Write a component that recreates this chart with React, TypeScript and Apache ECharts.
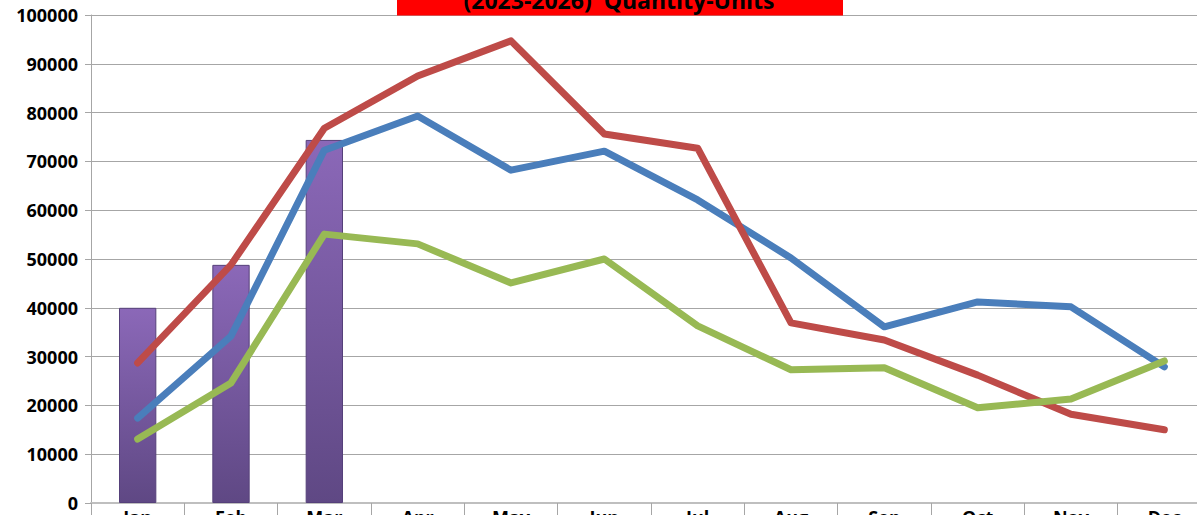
import React, { useEffect, useRef } from "react";
import * as echarts from "echarts";

const months = ["Jan", "Feb", "Mar", "Apr", "May", "Jun", "Jul", "Aug", "Sep", "Oct", "Nov", "Dec"];
const series2023 = [17400, 34200, 72300, 79300, 68200, 72100, 62100, 50200, 36100, 41200, 40200, 27900];
const series2024 = [28700, 48800, 76800, 87500, 94700, 75600, 72700, 36900, 33400, 26200, 18200, 15000];
const series2025 = [13100, 24600, 55100, 53100, 45100, 50000, 36300, 27300, 27700, 19500, 21300, 29100];
const series2026 = [40000, 48800, 74400];
const titleText = "(2023-2026)  Quantity-Units";

export default function App() {
  const ref = useRef<HTMLDivElement>(null);
  useEffect(() => {
    if (!ref.current) return;
    const chart = echarts.init(ref.current, null, { renderer: "svg" });
    const lineCommon = (name: string, data: number[], color: string) => ({
      name,
      type: "line",
      data,
      symbol: "none",
      smooth: false,
      lineStyle: { color, width: 7, cap: "round", join: "round" },
      itemStyle: { color },
      z: 3,
    });
    chart.setOption({
      animation: false,
      backgroundColor: "#ffffff",
      textStyle: { fontFamily: "Open Sans" },
      grid: { left: 91, right: -14, top: 15, bottom: 12, containLabel: false, outerBoundsMode: "none" },
      xAxis: {
        type: "category",
        data: months,
        boundaryGap: true,
        axisLine: { show: true, lineStyle: { color: "#bfbfbf", width: 2 } },
        axisTick: { show: true, length: 14, alignWithLabel: false, lineStyle: { color: "#a6a6a6" } },
        axisLabel: { color: "#000", fontWeight: "bold", fontSize: 18, margin: 5, verticalAlign: "top" },
      },
      yAxis: {
        type: "value",
        min: 0,
        max: 100000,
        interval: 10000,
        axisLine: { show: true, lineStyle: { color: "#a6a6a6" } },
        axisTick: { show: true, length: 6, lineStyle: { color: "#a6a6a6" } },
        axisLabel: {
          color: "#000",
          fontWeight: "bold",
          fontSize: 18,
          margin: 13,
          formatter: (v: number) => String(v),
        },
        splitLine: { show: true, lineStyle: { color: "#a6a6a6", width: 1 } },
      },
      series: [
        {
          name: "2026",
          type: "bar",
          data: series2026,
          barWidth: "40%",
          z: 2,
          itemStyle: {
            color: new echarts.graphic.LinearGradient(0, 0, 0, 1, [
              { offset: 0, color: "#8b68b8" },
              { offset: 1, color: "#5f4884" },
            ]),
            borderColor: "#55407a",
            borderWidth: 1,
          },
        },
        lineCommon("2023", series2023, "#4a7ebb"),
        lineCommon("2024", series2024, "#be4b48"),
        lineCommon("2025", series2025, "#98b954"),
      ],
      graphic: [
        {
          type: "rect",
          shape: { x: 397, y: 0, width: 446, height: 15.5 },
          style: { fill: "#ff0000" },
          z: 100,
        },
        {
          type: "text",
          x: 619,
          y: 0,
          z: 101,
          style: {
            text: titleText,
            fill: "#000",
            font: "bold 23px 'Open Sans'",
            textAlign: "center",
            textVerticalAlign: "middle",
          },
        },
      ],
    });
    return () => chart.dispose();
  }, []);
  return (
    <div
      ref={ref}
      style={{ position: "fixed", left: 0, top: 0, width: 1197, height: 515 }}
    />
  );
}
